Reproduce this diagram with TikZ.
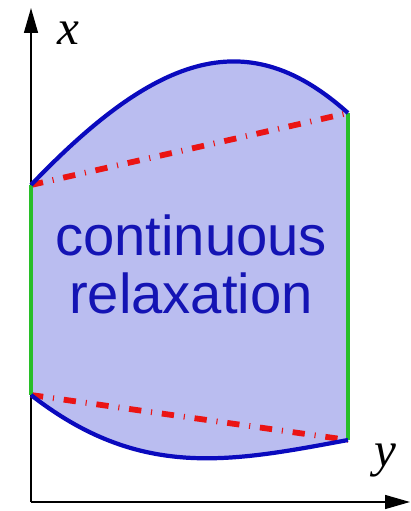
\documentclass[tikz,border=0pt]{standalone}
\usepackage{fontspec}
\setmainfont{Liberation Serif}
\setsansfont{Liberation Sans}
\usetikzlibrary{arrows.meta}
\definecolor{relaxfill}{RGB}{186,189,240}
\definecolor{curveblue}{RGB}{10,10,190}
\definecolor{textblue}{RGB}{20,20,180}
\definecolor{sidegreen}{RGB}{40,190,40}
\definecolor{cutred}{RGB}{235,20,20}

\begin{document}
\begin{tikzpicture}[x=0.02cm, y=-0.02cm,
  bound/.style={curveblue, line width=2.4pt},
  side/.style={sidegreen, line width=2.2pt},
  cut/.style={cutred, line width=3.3pt, dash pattern=on 7pt off 5.6pt on 0.6pt off 5.6pt},
  axis/.style={line width=0.8pt, -{Triangle[length=0.5cm, width=0.28cm]}},
  axislabel/.style={font=\fontsize{28}{30}\selectfont\itshape},
  region/.style={font=\sffamily\fontsize{32}{34}\selectfont, text=textblue, anchor=base, inner sep=0pt}]
  \useasboundingbox (0,0) rectangle (410,511);
  % corners of the relaxed region
  \coordinate (tl) at (31,185);
  \coordinate (tr) at (348,113);
  \coordinate (bl) at (31,395);
  \coordinate (br) at (348,440);
  % axes
  \coordinate (o) at (31,502);
  \coordinate (xend) at (31,8);
  \coordinate (yend) at (410,502);

  \fill[relaxfill] (tl) .. controls (160,50) and (250,25) .. (tr) -- (br)
    .. controls (230,462) and (140,480) .. (bl) -- cycle;

  \draw[axis] (o) -- (xend);
  \draw[axis] (o) -- (yend);
  \node[axislabel] (xlabel) at (68,33) {x};
  \node[axislabel] (ylabel) at (385,461) {y};

  % linear cuts
  \draw[cut] (tl) -- (tr);
  \draw[cut] (bl) -- (br);

  \draw[side] (tl) -- (bl);
  \draw[side] (tr) -- (br);

  \draw[bound] (tl) .. controls (160,50) and (250,25) .. (tr);
  \draw[bound] (bl) .. controls (140,480) and (230,462) .. (br);

  \node[region] (word1) at (191,255) {continuous};
  \node[region] (word2) at (191,313) {relaxation};
\end{tikzpicture}
\end{document}
